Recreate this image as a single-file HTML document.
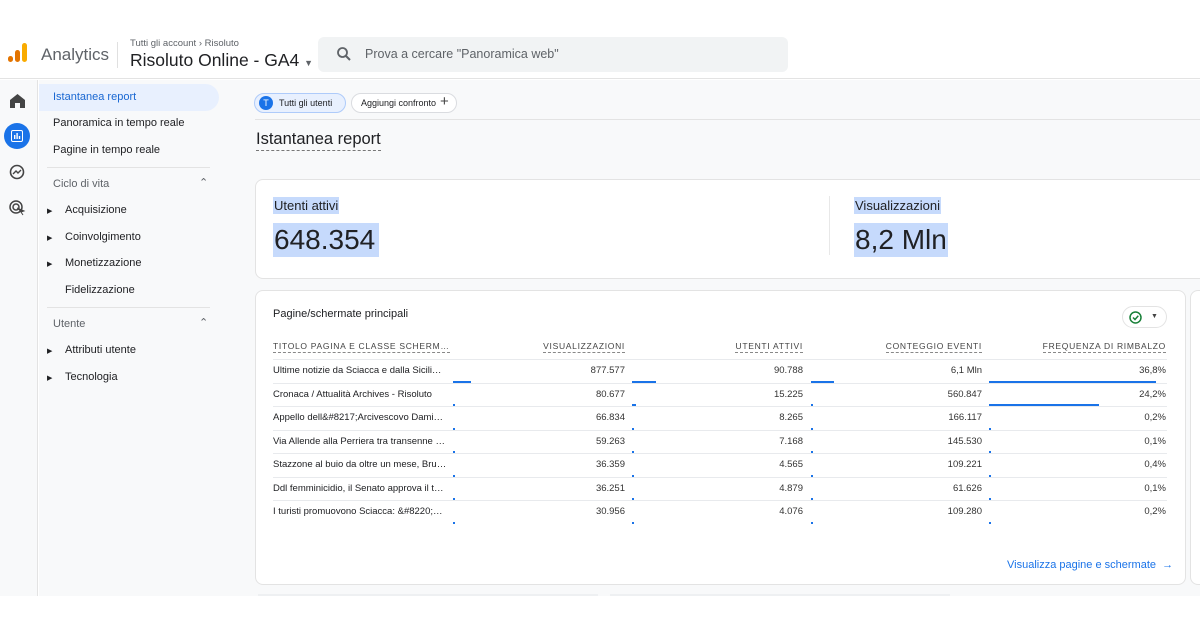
<!DOCTYPE html>
<html><head><meta charset="utf-8">
<style>
*{box-sizing:border-box;margin:0;padding:0}
body{width:1200px;height:628px;overflow:hidden;background:#fff;font-family:"Liberation Sans",Arial,sans-serif;color:#202124;position:relative}
.abs{position:absolute}
.t{position:absolute;white-space:nowrap}
.tri{position:absolute;font-size:7px;color:#202124}
</style></head><body>
<div class="abs" style="left:0;top:0;width:1200px;height:79px;background:#fff;border-bottom:1px solid #e3e3e3"></div>
<svg class="abs" style="left:7px;top:42px" width="22" height="24"><rect x="1" y="14" width="5" height="6" rx="2.5" fill="#e37400"/><rect x="8" y="8" width="5" height="12" rx="2.5" fill="#e37400"/><rect x="15" y="1" width="5" height="19" rx="2.5" fill="#f9ab00"/></svg>
<div class="t" style="left:41px;top:45px;font-size:17px;color:#5f6368">Analytics</div>
<div class="abs" style="left:117px;top:42px;width:1px;height:26px;background:#e0e0e0"></div>
<div class="t" style="left:130px;top:38px;font-size:9.5px;color:#5f6368">Tutti gli account › Risoluto</div>
<div class="t" style="left:130px;top:50px;font-size:17.5px;color:#202124">Risoluto Online - GA4 <span style="font-size:9px;color:#5f6368">▼</span></div>
<div class="abs" style="left:318px;top:37px;width:470px;height:35px;background:#f1f3f4;border-radius:6px"></div>
<svg class="abs" style="left:336px;top:46px" width="16" height="16"><circle cx="6.5" cy="6.5" r="4.5" stroke="#5f6368" stroke-width="1.8" fill="none"/><line x1="10" y1="10" x2="14" y2="14" stroke="#5f6368" stroke-width="2"/></svg>
<div class="t" style="left:365px;top:47px;font-size:12.5px;color:#5f6368">Prova a cercare "Panoramica web"</div>

<div class="abs" style="left:0;top:80px;width:38px;height:516px;background:#f8f9fa;border-right:1px solid #e3e3e3"></div>
<svg class="abs" style="left:10px;top:94px" width="15" height="14"><path d="M7.5 0 L15 6 V14 H10 V9 H5 V14 H0 V6 Z" fill="#444"/></svg>
<div class="abs" style="left:4px;top:123px;width:26px;height:26px;border-radius:50%;background:#1a73e8"></div>
<svg class="abs" style="left:11px;top:130px" width="12" height="12"><rect x="0.5" y="0.5" width="11" height="11" rx="1.5" fill="none" stroke="#fff"/><rect x="3" y="5" width="1.4" height="4" fill="#fff"/><rect x="5.4" y="3" width="1.4" height="6" fill="#fff"/><rect x="7.8" y="6" width="1.4" height="3" fill="#fff"/></svg>
<svg class="abs" style="left:9px;top:164px" width="17" height="17"><circle cx="8" cy="8" r="6.5" fill="none" stroke="#444" stroke-width="1.6"/><path d="M4 10 L7 7 L9 9 L12 6" fill="none" stroke="#444" stroke-width="1.4"/></svg>
<svg class="abs" style="left:9px;top:200px" width="17" height="17"><circle cx="7" cy="7" r="6" fill="none" stroke="#444" stroke-width="1.5"/><circle cx="7" cy="7" r="3" fill="none" stroke="#444" stroke-width="1.5"/><path d="M8 8 L15 11 L12 12 L14 15" fill="#444" stroke="#444"/></svg>

<div class="abs" style="left:39px;top:80px;width:199px;height:516px;background:#f8f9fa"></div>
<div class="abs" style="left:39px;top:84px;width:180px;height:27px;background:#e8f0fe;border-radius:0 14px 14px 0"></div>
<div class="t" style="left:53px;top:91px;font-size:11px;color:#1967d2">Istantanea report</div>
<div class="t" style="left:53px;top:117px;font-size:11px">Panoramica in tempo reale</div>
<div class="t" style="left:53px;top:144px;font-size:11px">Pagine in tempo reale</div>
<div class="abs" style="left:47px;top:167px;width:163px;height:1px;background:#e3e3e3"></div>
<div class="t" style="left:53px;top:178px;font-size:11px;color:#5f6368">Ciclo di vita</div>
<div class="t" style="left:199px;top:176px;font-size:11px;color:#5f6368">⌃</div>
<div class="tri" style="left:47px;top:207px">▶</div>
<div class="t" style="left:65px;top:204px;font-size:11px">Acquisizione</div>
<div class="tri" style="left:47px;top:234px">▶</div>
<div class="t" style="left:65px;top:231px;font-size:11px">Coinvolgimento</div>
<div class="tri" style="left:47px;top:260px">▶</div>
<div class="t" style="left:65px;top:257px;font-size:11px">Monetizzazione</div>
<div class="t" style="left:65px;top:284px;font-size:11px">Fidelizzazione</div>
<div class="abs" style="left:47px;top:307px;width:163px;height:1px;background:#e3e3e3"></div>
<div class="t" style="left:53px;top:318px;font-size:11px;color:#5f6368">Utente</div>
<div class="t" style="left:199px;top:316px;font-size:11px;color:#5f6368">⌃</div>
<div class="tri" style="left:47px;top:347px">▶</div>
<div class="t" style="left:65px;top:344px;font-size:11px">Attributi utente</div>
<div class="tri" style="left:47px;top:374px">▶</div>
<div class="t" style="left:65px;top:371px;font-size:11px">Tecnologia</div>

<div class="abs" style="left:238px;top:80px;width:962px;height:516px;background:#f8f9fa"></div>
<div class="abs" style="left:254px;top:93px;width:92px;height:20px;border:1px solid #aecbfa;background:#e8f0fe;border-radius:10px"></div>
<div class="abs" style="left:259px;top:96px;width:14px;height:14px;border-radius:50%;background:#1a73e8;color:#fff;font-size:9px;text-align:center;line-height:14px">T</div>
<div class="t" style="left:279px;top:98px;font-size:9px">Tutti gli utenti</div>
<div class="abs" style="left:351px;top:93px;width:106px;height:20px;border:1px solid #dadce0;background:#fff;border-radius:10px"></div>
<div class="t" style="left:361px;top:98px;font-size:9px">Aggiungi confronto</div>
<div class="t" style="left:440px;top:93px;font-size:15px;color:#444">+</div>
<div class="abs" style="left:255px;top:119px;width:945px;height:1px;background:#e3e3e3"></div>
<div class="t" style="left:256px;top:130px;font-size:16.5px;border-bottom:1px dashed #777;padding-bottom:1px">Istantanea report</div>

<div class="abs" style="left:255px;top:179px;width:960px;height:100px;background:#fff;border:1px solid #e3e3e3;border-radius:8px"></div>
<div class="t" style="left:273px;top:197px;font-size:13px;background:#c6dafc;padding:1px 1px">Utenti attivi</div>
<div class="t" style="left:273px;top:223px;font-size:28px;background:#c6dafc;padding:0 4px 0 1px;line-height:34px">648.354</div>
<div class="abs" style="left:829px;top:196px;width:1px;height:59px;background:#e8e8e8"></div>
<div class="t" style="left:854px;top:197px;font-size:13px;background:#c6dafc;padding:1px 1px">Visualizzazioni</div>
<div class="t" style="left:854px;top:223px;font-size:28px;background:#c6dafc;padding:0 1px;line-height:34px">8,2 Mln</div>

<div class="abs" style="left:255px;top:290px;width:931px;height:295px;background:#fff;border:1px solid #e3e3e3;border-radius:8px"></div>
<div class="abs" style="left:1190px;top:290px;width:20px;height:295px;background:#fff;border:1px solid #e3e3e3;border-radius:8px"></div>
<div class="t" style="left:273px;top:308px;font-size:11px">Pagine/schermate principali</div>
<div class="abs" style="left:1122px;top:306px;width:45px;height:22px;border:1px solid #e3e3e3;border-radius:11px"></div>
<svg class="abs" style="left:1129px;top:311px" width="13" height="13"><circle cx="6.5" cy="6.5" r="5.5" fill="none" stroke="#188038" stroke-width="1.5"/><path d="M4 6.5 L6 8.5 L9.3 4.8" fill="none" stroke="#188038" stroke-width="1.5"/></svg>
<div class="t" style="left:1151px;top:313px;font-size:7px;color:#444">▼</div>
<div id="tbl"></div>
<div class="t" style="left:1007px;top:559px;font-size:11px;color:#1a73e8">Visualizza pagine e schermate &nbsp;→</div>

<div class="abs" style="left:258px;top:594px;width:340px;height:3px;background:#eef0f2"></div>
<div class="abs" style="left:610px;top:594px;width:340px;height:3px;background:#eef0f2"></div>
<div class="abs" style="left:0;top:596px;width:1200px;height:32px;background:#fff"></div>

<script>
const titles=["Ultime notizie da Sciacca e dalla Sicili…","Cronaca / Attualità Archives - Risoluto","Appello dell&#8217;Arcivescovo Dami…","Via Allende alla Perriera tra transenne …","Stazzone al buio da oltre un mese, Bru…","Ddl femminicidio, il Senato approva il t…","I turisti promuovono Sciacca: &#8220;…"];
const views=[877577,80677,66834,59263,36359,36251,30956];
const users=[90788,15225,8265,7168,4565,4879,4076];
const events=[6100000,560847,166117,145530,109221,61626,109280];
const eventLabels=["6,1 Mln","560.847","166.117","145.530","109.221","61.626","109.280"];
const bounce=[36.8,24.2,0.2,0.1,0.4,0.1,0.2];
const headers=["TITOLO PAGINA E CLASSE SCHERM…","VISUALIZZAZIONI","UTENTI ATTIVI","CONTEGGIO EVENTI","FREQUENZA DI RIMBALZO"];
const totalViews=8200000,totalUsers=648354,totalEvents=45000000;
const tbl=document.getElementById('tbl');
const fmt=n=>n.toLocaleString('de-DE');
function add(text,style,name,inter){const d=document.createElement('div');d.className='t';d.textContent=text;d.style.cssText=style;


tbl.appendChild(d);return d;}
const rights=[443,625,803,982,1166];
const barX=[null,453,632,811,989];
const barW=172;
headers.forEach((h,i)=>{
  const st='top:341px;font-size:8.5px;letter-spacing:0.7px;color:#444;border-bottom:1px dashed #888;padding-bottom:1px;';
  if(i==0) add(h,st+'left:273px','col-header-'+i,'true');
  else add(h,st+'right:'+(1200-rights[i])+'px','col-header-'+i,'true');
});
function line(y){const d=document.createElement('div');d.className='abs';d.style.cssText='left:273px;top:'+y+'px;width:894px;height:1px;background:#e8eaed';


tbl.appendChild(d);}
line(359);
const rowH=23.5;
titles.forEach((t,r)=>{
  const y=359+r*rowH;
  add(t,'left:273px;top:'+(y+6)+'px;font-size:9.5px','row-title-'+r,'true');
  const vals=[fmt(views[r]),fmt(users[r]),eventLabels[r],bounce[r].toFixed(1).replace('.',',')+'%'];
  const fr=[views[r]/totalViews,users[r]/totalUsers,events[r]/totalEvents,bounce[r]/Math.max(...bounce)*0.97];
  vals.forEach((v,c)=>{
    add(v,'right:'+(1200-rights[c+1])+'px;top:'+(y+6)+'px;font-size:9.5px;color:#333','cell-'+r+'-'+c,'false');
    const b=document.createElement('div');b.className='abs';
    b.style.cssText='left:'+barX[c+1]+'px;top:'+(y+21.5)+'px;height:2px;width:'+Math.max(1.5,fr[c]*barW)+'px;background:#1a73e8';
    
    
    tbl.appendChild(b);
  });
  if(r<titles.length-1) line(y+rowH);
});
</script>
</body></html>
